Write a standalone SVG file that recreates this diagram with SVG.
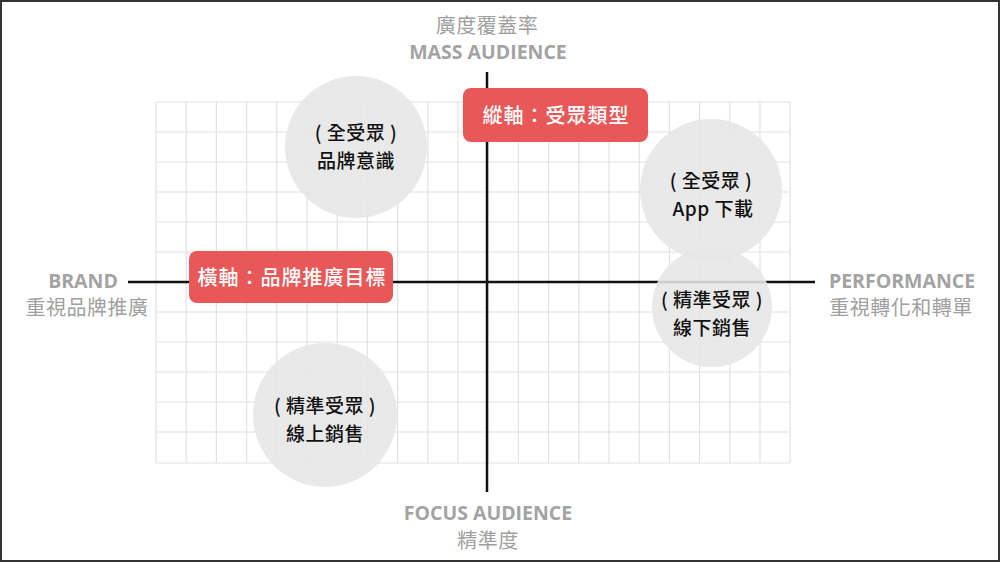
<svg xmlns="http://www.w3.org/2000/svg" width="1000" height="562" viewBox="0 0 1000 562">
<defs>
<style>
.grid line{stroke:#e2e2e2;stroke-width:1.2}
.axis{stroke:#111;stroke-width:2.5}
.bubble{fill:#e6e6e6;fill-opacity:0.88}
.btxt{font-family:"Noto Sans CJK TC","Noto Sans",sans-serif;font-size:19px;fill:#111;text-anchor:middle;font-weight:500;letter-spacing:0.5px}
.box{fill:#e85858}
.boxtxt{font-family:"Noto Sans CJK TC","Noto Sans",sans-serif;font-size:20px;fill:#fff;text-anchor:middle;font-weight:500;letter-spacing:1px}
.en{font-family:"Open Sans","Noto Sans",sans-serif;font-size:19.5px;font-weight:700;fill:#a3a3a3;text-anchor:middle}
.zh{font-family:"Noto Sans CJK TC","Noto Sans",sans-serif;font-size:20px;fill:#a0a0a0;text-anchor:middle;letter-spacing:0.5px}
</style>
</defs>
<rect x="0" y="0" width="1000" height="562" fill="#fff"/>
<g id="grid" class="grid">
<line x1="156" y1="102" x2="156" y2="463"/><line x1="186.2" y1="102" x2="186.2" y2="463"/><line x1="216.4" y1="102" x2="216.4" y2="463"/><line x1="246.6" y1="102" x2="246.6" y2="463"/><line x1="276.8" y1="102" x2="276.8" y2="463"/><line x1="307" y1="102" x2="307" y2="463"/><line x1="337.2" y1="102" x2="337.2" y2="463"/><line x1="367.4" y1="102" x2="367.4" y2="463"/><line x1="397.6" y1="102" x2="397.6" y2="463"/><line x1="427.8" y1="102" x2="427.8" y2="463"/><line x1="458" y1="102" x2="458" y2="463"/><line x1="488.2" y1="102" x2="488.2" y2="463"/><line x1="518.4" y1="102" x2="518.4" y2="463"/><line x1="548.6" y1="102" x2="548.6" y2="463"/><line x1="578.8" y1="102" x2="578.8" y2="463"/><line x1="609" y1="102" x2="609" y2="463"/><line x1="639.2" y1="102" x2="639.2" y2="463"/><line x1="669.4" y1="102" x2="669.4" y2="463"/><line x1="699.6" y1="102" x2="699.6" y2="463"/><line x1="729.8" y1="102" x2="729.8" y2="463"/><line x1="760" y1="102" x2="760" y2="463"/><line x1="790" y1="102" x2="790" y2="463"/>
<line x1="156" y1="102" x2="790" y2="102"/><line x1="156" y1="132" x2="790" y2="132"/><line x1="156" y1="162" x2="790" y2="162"/><line x1="156" y1="192" x2="790" y2="192"/><line x1="156" y1="222" x2="790" y2="222"/><line x1="156" y1="252" x2="790" y2="252"/><line x1="156" y1="282" x2="790" y2="282"/><line x1="156" y1="312" x2="790" y2="312"/><line x1="156" y1="342" x2="790" y2="342"/><line x1="156" y1="372" x2="790" y2="372"/><line x1="156" y1="402" x2="790" y2="402"/><line x1="156" y1="432" x2="790" y2="432"/><line x1="156" y1="463" x2="790" y2="463"/>
</g>
<g id="connectors">
<line class="axis" x1="128" y1="282" x2="815" y2="282"/>
<line class="axis" x1="487" y1="72" x2="487" y2="492"/>
</g>
<g id="bubble-brand">
<circle class="bubble" cx="356" cy="147" r="71"/>
<text class="btxt" x="356" y="140">( 全受眾 )</text>
<text class="btxt" x="356" y="168">品牌意識</text>
</g>
<g id="bubble-app">
<circle class="bubble" cx="711" cy="190" r="71"/>
<text class="btxt" x="711" y="188">( 全受眾 )</text>
<text class="btxt" x="713" y="216">App 下載</text>
</g>
<g id="bubble-offline">
<circle class="bubble" cx="712" cy="307" r="60"/>
<text class="btxt" x="712" y="307">( 精準受眾 )</text>
<text class="btxt" x="712" y="335">線下銷售</text>
</g>
<g id="bubble-online">
<circle class="bubble" cx="325" cy="415" r="72"/>
<text class="btxt" x="325" y="413">( 精準受眾 )</text>
<text class="btxt" x="325" y="441">線上銷售</text>
</g>
<g id="label-vertical">
<rect class="box" x="463" y="88" width="185" height="54" rx="8"/>
<text class="boxtxt" x="556" y="123">縱軸：受眾類型</text>
</g>
<g id="label-horizontal">
<rect class="box" x="189" y="251" width="204" height="52" rx="8"/>
<text class="boxtxt" x="292" y="285">橫軸：品牌推廣目標</text>
</g>
<g id="top-label">
<text class="zh" x="487" y="33">廣度覆蓋率</text>
<text class="en" x="488" y="59">MASS AUDIENCE</text>
</g>
<g id="bottom-label">
<text class="en" x="488" y="520">FOCUS AUDIENCE</text>
<text class="zh" x="488" y="548">精準度</text>
</g>
<g id="left-label">
<text class="en" x="83" y="288">BRAND</text>
<text class="zh" x="87" y="315">重視品牌推廣</text>
</g>
<g id="right-label">
<text class="en" x="902" y="288">PERFORMANCE</text>
<text class="zh" x="901" y="315">重視轉化和轉單</text>
</g>
<rect x="1" y="1" width="998" height="560" fill="none" stroke="#333" stroke-width="2"/>
</svg>
